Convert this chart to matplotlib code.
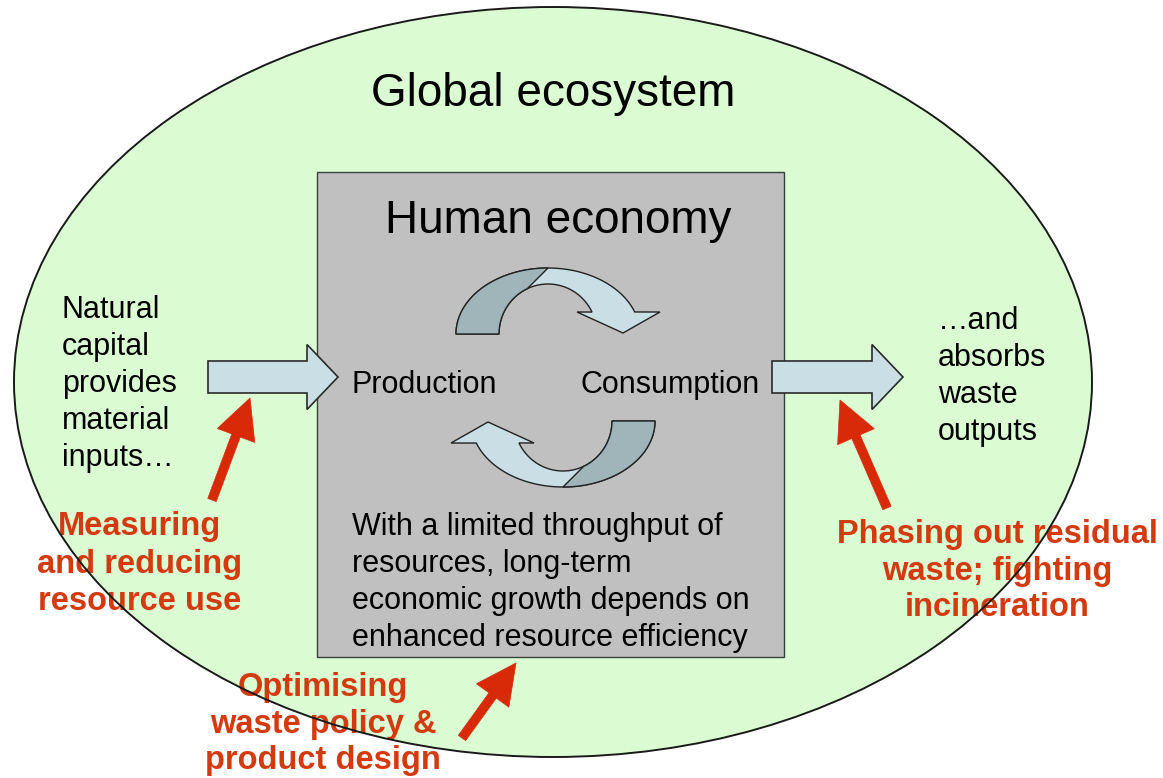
import numpy as np
import matplotlib.pyplot as plt
from matplotlib.patches import Ellipse, Rectangle, Polygon, FancyArrow

FONT = ["Liberation Sans", "DejaVu Sans"]

TITLE_OUTER = "Global ecosystem"
TITLE_INNER = "Human economy"
CYCLE_LABELS = ["Production", "Consumption"]
INPUT_LINES = ["Natural", "capital", "provides", "material", "inputs\u2026"]
OUTPUT_LINES = ["\u2026and", "absorbs", "waste", "outputs"]
BOX_LINES = [
    "With a limited throughput of",
    "resources, long-term",
    "economic growth depends on",
    "enhanced resource efficiency",
]
ACTION_LEFT = ["Measuring", "and reducing", "resource use"]
ACTION_BOTTOM = ["Optimising", "waste policy &", "product design"]
ACTION_RIGHT = ["Phasing out residual", "waste; fighting", "incineration"]

GREEN = "#dbfcd3"
GREY = "#c0c0c0"
PALE_BLUE = "#c9dfe5"
DARK_BLUE = "#9fb5b9"
RED_TEXT = "#d33a10"
RED_ARROW = "#d82a08"


def arc(cx, cy, rx, ry, a0, a1, n=60):
    t = np.radians(np.linspace(a0, a1, n))
    return np.column_stack([cx + rx * np.cos(t), cy - ry * np.sin(t)])


def curved_arrow(ax, flip=False):
    cx, cy = 548, 334
    outer = arc(cx, cy, 92, 66, 180, 19.5)
    head = np.array([[660, 312], [623, 333], [577, 312]])
    inner = arc(cx, cy, 49, 50, 26, 180)
    full = np.vstack([outer, head, inner])
    back = np.vstack([arc(cx, cy, 92, 66, 180, 90), arc(cx, cy, 49, 50, 115, 180)])
    if flip:
        full = np.array([1111, 755]) - full
        back = np.array([1111, 755]) - back
    ax.add_patch(Polygon(full, closed=True, fc=PALE_BLUE, ec="#222222", lw=1.0, zorder=4))
    ax.add_patch(Polygon(back, closed=True, fc=DARK_BLUE, ec="#222222", lw=1.0, zorder=5))


def red_arrow(ax, tail, tip):
    dx, dy = tip[0] - tail[0], tip[1] - tail[1]
    ax.add_patch(FancyArrow(tail[0], tail[1], dx, dy, width=9, head_width=40,
                            head_length=40, length_includes_head=True,
                            fc=RED_ARROW, ec=RED_ARROW, lw=0.5, zorder=8))


def block_arrow(ax, x0, x1, y):
    ax.add_patch(FancyArrow(x0, y, x1 - x0, 0, width=32, head_width=65,
                            head_length=31, length_includes_head=True,
                            fc=PALE_BLUE, ec="#2a2a2a", lw=1.2, zorder=3))


def text_lines(ax, lines, x, baselines, ha="left", **kw):
    for line, y in zip(lines, baselines):
        ax.text(x, y, line, ha=ha, va="baseline", family=FONT, **kw)


def main():
    fig = plt.figure(figsize=(11.63, 7.78), dpi=100)
    ax = fig.add_axes([0, 0, 1, 1])
    ax.set_xlim(0, 1163)
    ax.set_ylim(778, 0)
    ax.axis("off")

    ax.add_patch(Ellipse((553, 382), 1078, 750, fc=GREEN, ec="none", zorder=1))
    ax.add_patch(Ellipse((553, 382), 1078, 750, fc="none", ec="#1a1a1a", lw=1.4, zorder=10))
    ax.add_patch(Rectangle((317, 172), 467, 485, fc=GREY, ec="#34443a", lw=1.0, zorder=2))

    block_arrow(ax, 208, 338, 377)
    block_arrow(ax, 772, 903, 377)
    curved_arrow(ax)
    curved_arrow(ax, flip=True)

    ax.text(553, 106, TITLE_OUTER, ha="center", va="baseline", family=FONT, fontsize=33, zorder=6)
    ax.text(558, 233, TITLE_INNER, ha="center", va="baseline", family=FONT, fontsize=33, zorder=6)
    ax.text(352, 393, CYCLE_LABELS[0], ha="left", va="baseline", family=FONT, fontsize=22, zorder=6)
    ax.text(581, 393, CYCLE_LABELS[1], ha="left", va="baseline", family=FONT, fontsize=22, zorder=6)

    text_lines(ax, INPUT_LINES, 62, [318, 355, 392, 429, 466], fontsize=22, zorder=6)
    text_lines(ax, OUTPUT_LINES, 938, [329, 366, 403, 440], fontsize=22, zorder=6)
    text_lines(ax, BOX_LINES, 352, [535, 572, 609, 646], fontsize=22, zorder=6)

    bold = dict(ha="center", fontsize=23.5, fontweight="bold", color=RED_TEXT, zorder=9)
    text_lines(ax, ACTION_LEFT, 140, [535, 573, 610], **bold)
    text_lines(ax, ACTION_BOTTOM, 323, [696, 733, 769], **bold)
    text_lines(ax, ACTION_RIGHT, 997, [543, 580, 616], **bold)

    red_arrow(ax, (212, 500), (250, 398))
    red_arrow(ax, (462, 738), (516, 663))
    red_arrow(ax, (887, 508), (840, 400))

    fig.savefig("out.png", dpi=100)
    plt.close(fig)


if __name__ == "__main__":
    main()
